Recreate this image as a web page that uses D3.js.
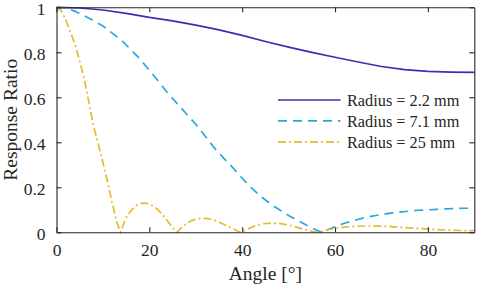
<!DOCTYPE html>
<html>
<head>
<meta charset="utf-8">
<style>
  body { margin: 0; background: #fff; }
  text { font-family: "Liberation Serif", "Times New Roman", serif; fill: #262626; }
</style>
</head>
<body>
<div id="chart"></div>
<script src="https://d3js.org/d3.v7.min.js"></script>
<script>
// values
const angles22 = [0, 5, 10, 15, 20, 25, 30, 35, 40, 45, 50, 55, 60, 65, 70, 75, 80, 85, 90];
const ratio22 = [1, 0.997, 0.988, 0.973, 0.955, 0.94, 0.921, 0.9, 0.875, 0.848, 0.823, 0.8, 0.778, 0.757, 0.737, 0.723, 0.715, 0.712, 0.711];

const angles71 = [0, 2, 4, 6, 8, 10, 12, 14, 16, 18, 20, 22, 24, 26, 28, 30, 32, 34, 36, 38, 40, 42, 44, 46, 48, 50, 52, 54, 56, 57,
  58, 60, 62, 64, 66, 68, 70, 72, 74, 76, 78, 80, 82, 84, 86, 88, 90];
const ratio71 = [1, 0.997, 0.982, 0.962, 0.94, 0.917, 0.885, 0.854, 0.812, 0.77, 0.72, 0.67, 0.618, 0.572, 0.526, 0.48, 0.428, 0.375, 0.33, 0.287,
  0.24, 0.197, 0.16, 0.128, 0.1, 0.075, 0.052, 0.03, 0.01, 0,
  0.008, 0.025, 0.04, 0.052, 0.063, 0.072, 0.079, 0.085, 0.09, 0.094, 0.098, 0.1, 0.102, 0.104, 0.106, 0.107, 0.107];

const angles25 = [0, 1, 2, 3, 4, 5, 6, 7, 8, 9, 10, 11, 12, 13, 13.8,
  14.5, 15, 16, 17, 18, 19, 20, 21, 22, 23, 24, 25, 25.9,
  27, 28, 29, 30, 31, 32, 33, 34, 35, 36, 37, 38, 39, 39.7,
  41, 42, 43, 44, 45, 46, 47, 48, 49, 50, 51, 52, 53, 54, 55, 56.4,
  58, 60, 62, 64, 66, 68, 70, 72, 75, 78, 81, 84, 87, 90];
const ratio25 = [1, 0.985, 0.945, 0.89, 0.835, 0.76, 0.68, 0.575, 0.47, 0.392, 0.31, 0.225, 0.13, 0.045, 0,
  0.04, 0.065, 0.095, 0.117, 0.128, 0.13, 0.126, 0.115, 0.097, 0.074, 0.048, 0.022, 0,
  0.022, 0.039, 0.051, 0.058, 0.062, 0.062, 0.059, 0.053, 0.045, 0.036, 0.026, 0.016, 0.006, 0,
  0.013, 0.022, 0.03, 0.035, 0.039, 0.04, 0.04, 0.039, 0.036, 0.032, 0.027, 0.021, 0.015, 0.009, 0.004, 0,
  0.009, 0.017, 0.023, 0.026, 0.028, 0.028, 0.027, 0.025, 0.021, 0.017, 0.013, 0.01, 0.008, 0.007];

const seriesNames = ["Radius = 2.2 mm", "Radius = 7.1 mm", "Radius = 25 mm"];
const xTicks = [0, 20, 40, 60, 80];
const yTicks = [0, 0.2, 0.4, 0.6, 0.8, 1];

const series = [
  { name: seriesNames[0], x: angles22, y: ratio22, color: "#3f2db0", dash: null },
  { name: seriesNames[1], x: angles71, y: ratio71, color: "#2aa7e2", dash: "9,6" },
  { name: seriesNames[2], x: angles25, y: ratio25, color: "#e4bd2c", dash: "8,3,2,3" }
];

const width = 477, height = 288;
const plotLeft = 56.5, plotRight = 474.3, plotTop = 7.3, plotBottom = 232.3;

const svg = d3.select("#chart").append("svg")
  .attr("width", width)
  .attr("height", height);

const x = d3.scaleLinear().domain([0, 90]).range([plotLeft, plotRight]);
const y = d3.scaleLinear().domain([0, 1]).range([plotBottom, plotTop]);

// curves
const line = d3.line().x(d => x(d[0])).y(d => y(d[1]));
series.forEach(s => {
  svg.append("path")
    .attr("d", line(d3.zip(s.x, s.y)))
    .attr("fill", "none")
    .attr("stroke", s.color)
    .attr("stroke-width", 1.7)
    .attr("stroke-dasharray", s.dash);
});

// axes, ticks pointing inwards like matlab
const axisColor = "#262626";
svg.append("g").attr("transform", `translate(0,${plotBottom})`)
  .call(d3.axisBottom(x).tickValues(xTicks).tickSizeInner(-5).tickSizeOuter(0).tickPadding(11).tickFormat(d3.format("d")));
svg.append("g").attr("transform", `translate(0,${plotTop})`)
  .call(d3.axisTop(x).tickValues(xTicks).tickSizeInner(-5).tickSizeOuter(0).tickFormat(""));
const yAxis = svg.append("g").attr("transform", `translate(${plotLeft},0)`)
  .call(d3.axisLeft(y).tickValues(yTicks).tickSizeInner(-5).tickSizeOuter(0).tickPadding(11).tickFormat(d => d3.format("~g")(d)));
yAxis.selectAll(".tick text").attr("dy", "0.4em");
svg.append("g").attr("transform", `translate(${plotRight},0)`)
  .call(d3.axisRight(y).tickValues(yTicks).tickSizeInner(-5).tickSizeOuter(0).tickFormat(""));

svg.selectAll(".domain").attr("stroke", axisColor).attr("stroke-width", 1.1);
svg.selectAll(".tick line").attr("stroke", axisColor).attr("stroke-width", 1.1);
svg.selectAll(".tick text")
  .attr("font-family", "Liberation Serif")
  .attr("font-size", 17.5)
  .attr("fill", axisColor);

// axis labels
svg.append("text")
  .attr("x", (plotLeft + plotRight) / 2)
  .attr("y", 280)
  .attr("text-anchor", "middle")
  .attr("font-size", 19.5)
  .text("Angle [°]");

svg.append("text")
  .attr("transform", `translate(17,${(plotTop + plotBottom) / 2}) rotate(-90)`)
  .attr("text-anchor", "middle")
  .attr("font-size", 19.5)
  .text("Response Ratio");

// legend (no box)
const legend = svg.append("g");
series.forEach((s, i) => {
  const ly = 100 + i * 20.9;
  legend.append("line")
    .attr("x1", 278).attr("x2", 340.5)
    .attr("y1", ly).attr("y2", ly)
    .attr("stroke", s.color)
    .attr("stroke-width", 1.7)
    .attr("stroke-dasharray", s.dash);
  legend.append("text")
    .attr("x", 347)
    .attr("y", ly + 6)
    .attr("font-size", 16.3)
    .text(s.name);
});
</script>
</body>
</html>
